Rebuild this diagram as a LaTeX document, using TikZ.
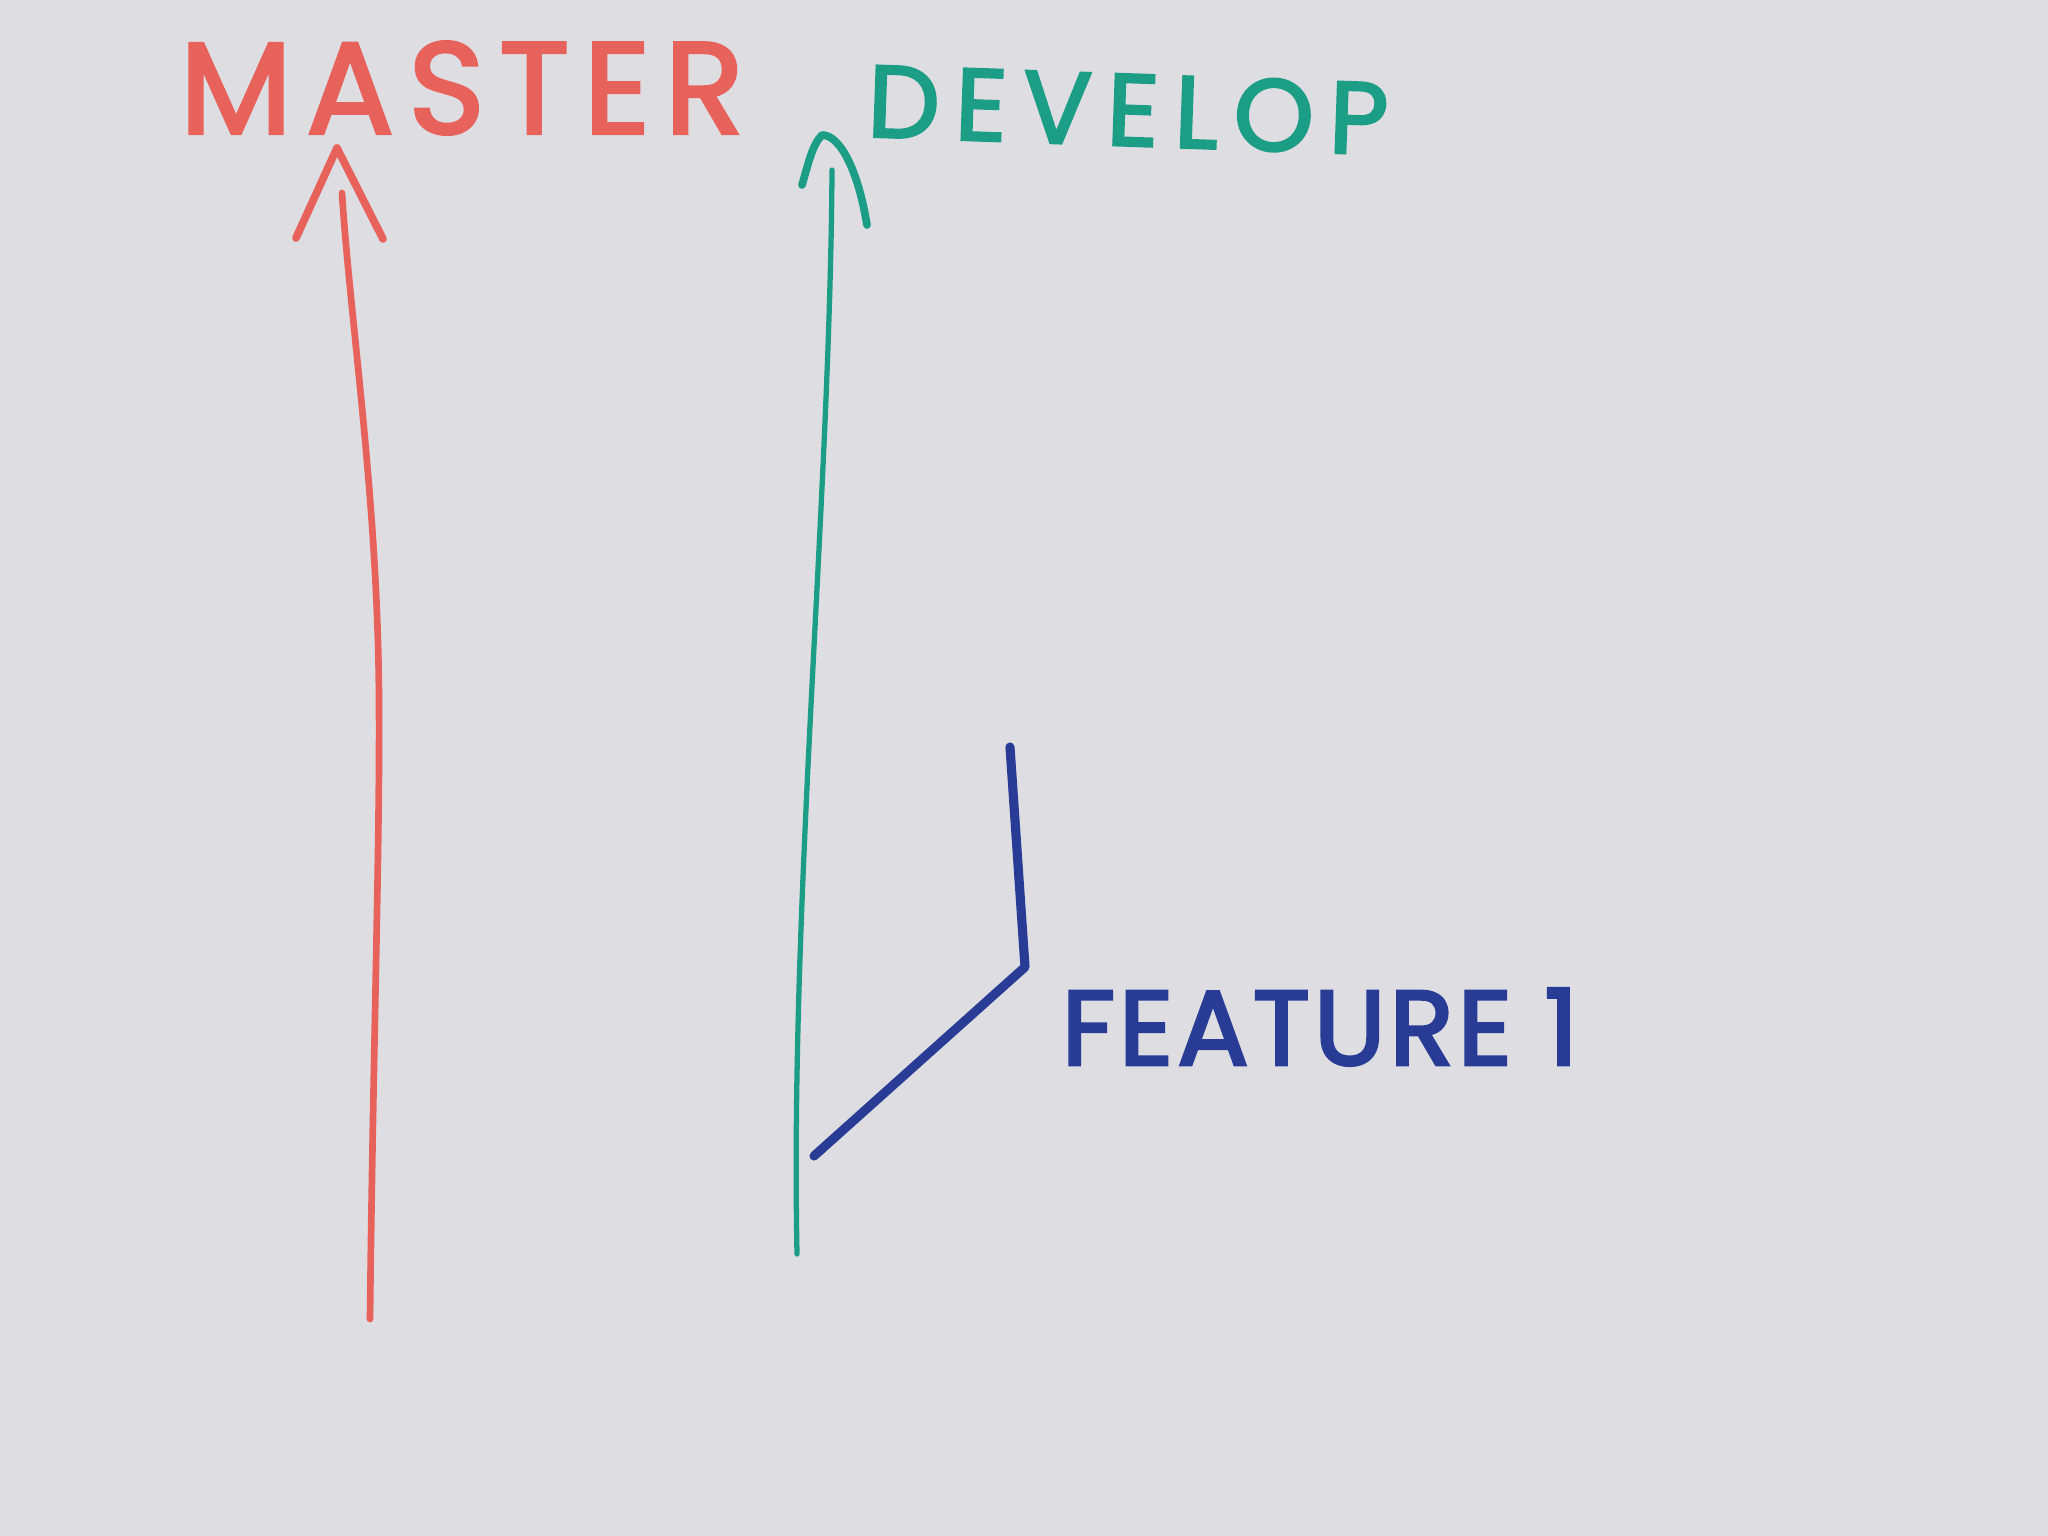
\documentclass[tikz,border=0pt]{standalone}
\usepackage{fontspec}
\setsansfont{Poppins}
\definecolor{paper}{RGB}{221,221,226}
\definecolor{mred}{RGB}{232,98,92}
\definecolor{mgreen}{RGB}{28,158,134}
\definecolor{mblue}{RGB}{40,60,150}
\tikzset{
  branch/.style={line cap=round,line join=round},
  label/.style={inner sep=0pt},
}
\begin{document}
\begin{tikzpicture}[x=0.01cm,y=-0.01cm]
\fill[paper] (0,0) rectangle (2048,1536);
\useasboundingbox (0,0) rectangle (2048,1536);
% labels
\node[label,text=mred,font=\sffamily\addfontfeatures{LetterSpace=11,FakeBold=2.5}\fontsize{37}{40}\selectfont] (master) at (462,88) {MASTER};
\node[label,text=mgreen,font=\sffamily\addfontfeatures{LetterSpace=15,FakeBold=2.5}\fontsize{29}{32}\selectfont,rotate=-2] (develop) at (1128,110) {DEVELOP};
\node[label,text=mblue,font=\sffamily\addfontfeatures{LetterSpace=4,FakeBold=3}\fontsize{30}{34}\selectfont] (feature) at (1320,1027) {FEATURE 1};
% master branch
\coordinate (mbot) at (370,1319);
\coordinate (mmid) at (379,700);
\coordinate (mtop) at (342,193);
\coordinate (mtip) at (337,148);
\coordinate (mwl) at (296,238);
\coordinate (mwr) at (383,239);
\draw[branch,mred,line width=1.9pt] (mbot) .. controls (373,1050) and (380,850) .. (mmid) .. controls (378,500) and (350,320) .. (mtop);
\draw[branch,mred,line width=2.2pt] (mwl) -- (mtip) -- (mwr);
% develop branch
\coordinate (dbot) at (797,1254);
\coordinate (dtop) at (832,170);
\coordinate (dtip) at (822,135);
\coordinate (dwl) at (802,185);
\coordinate (dwr) at (867,225);
\draw[branch,mgreen,line width=1.5pt] (dbot) .. controls (790,900) and (830,500) .. (dtop);
\draw[branch,mgreen,line width=2.2pt] (dwl) .. controls (808,165) and (812,145) .. (dtip) .. controls (840,135) and (858,170) .. (dwr);
% feature branch
\coordinate (fstart) at (814,1156);
\coordinate (fcorner) at (1025,967);
\coordinate (ftop) at (1010,747);
\draw[branch,mblue,line width=2.6pt] (fstart) -- (fcorner) -- (ftop);
\end{tikzpicture}
\end{document}
